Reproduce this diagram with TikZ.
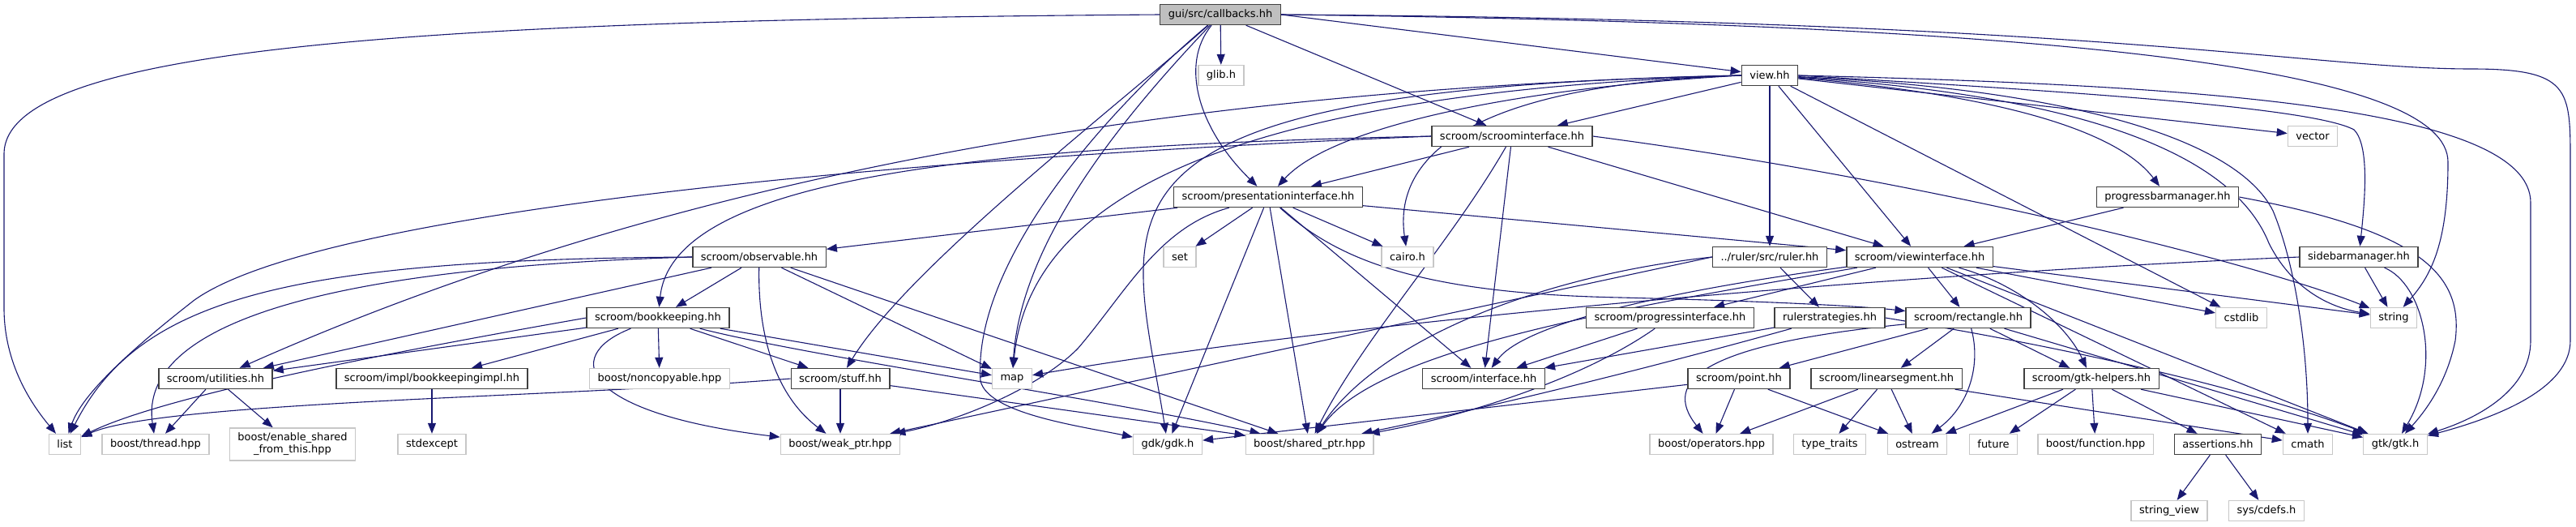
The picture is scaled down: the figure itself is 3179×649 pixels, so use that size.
\documentclass[tikz,border=0pt]{standalone}
\usepackage{fontspec}
\usepackage{tikz}
\usetikzlibrary{arrows.meta,backgrounds}
\newfontfamily\dxfont{DejaVu Sans}
\definecolor{edgeblue}{HTML}{191970}

\begin{document}
\begin{tikzpicture}[x=1pt, y=-1pt]
    \tikzset{hdr/.style={draw=black!75, fill=white, line width=1.4pt, inner xsep=10pt, inner ysep=0pt,
                         minimum height=25pt, font=\dxfont\fontsize{13pt}{15pt}\selectfont},
             ext/.style={hdr, draw=black!22},
             root/.style={hdr, fill=black!25},
             dep/.style={draw=edgeblue, line width=1.1pt, -{Triangle[length=13pt,width=10pt]}}}
    \useasboundingbox (0,0) rectangle (3179,649);
    \node[root] (cb) at (1506,18) {gui/src/callbacks.hh};
    \node[ext] (glib) at (1507,93) {glib.h};
    \node[hdr] (view) at (2184,93) {view.hh};
    \node[hdr] (si) at (1866,168) {scroom/scroominterface.hh};
    \node[ext] (vector) at (2854,168) {vector};
    \node[hdr] (pi) at (1565,243) {scroom/presentationinterface.hh};
    \node[hdr] (pbm) at (2675,243) {progressbarmanager.hh};
    \node[hdr] (obs) at (937,317) {scroom/observable.hh};
    \node[ext] (set) at (1456,317) {set};
    \node[ext] (cairo) at (1737,317) {cairo.h};
    \node[hdr] (ruler) at (2184,317) {../ruler/src/ruler.hh};
    \node[hdr] (vi) at (2369,317) {scroom/viewinterface.hh};
    \node[hdr] (sbm) at (2911,317) {sidebarmanager.hh};
    \node[hdr] (bk) at (812,392) {scroom/bookkeeping.hh};
    \node[hdr] (progif) at (2061,392) {scroom/progressinterface.hh};
    \node[hdr] (rstrat) at (2258,392) {rulerstrategies.hh};
    \node[hdr] (rect) at (2429,392) {scroom/rectangle.hh};
    \node[ext] (cstdlib) at (2766,392) {cstdlib};
    \node[ext] (string) at (2954,392) {string};
    \node[hdr] (util) at (266,467) {scroom/utilities.hh};
    \node[hdr] (bkimpl) at (533,467) {scroom/impl/bookkeepingimpl.hh};
    \node[ext] (noncopy) at (814,467) {boost/noncopyable.hpp};
    \node[hdr] (stuff) at (1037,467) {scroom/stuff.hh};
    \node[ext] (map) at (1249,467) {map};
    \node[hdr] (iface) at (1831,467) {scroom/interface.hh};
    \node[hdr] (point) at (2146,467) {scroom/point.hh};
    \node[hdr] (linseg) at (2328,467) {scroom/linearsegment.hh};
    \node[hdr] (gtkh) at (2581,467) {scroom/gtk-helpers.hh};
    \node[ext] (list) at (80,548) {list};
    \node[ext] (thread) at (192,548) {boost/thread.hpp};
    \node[ext, align=center, minimum height=40pt] (enshared) at (361,548) {boost/enable\_shared\\\_from\_this.hpp};
    \node[ext] (stdexc) at (533,548) {stdexcept};
    \node[ext] (weak) at (1037,548) {boost/weak\_ptr.hpp};
    \node[ext] (gdk) at (1441,548) {gdk/gdk.h};
    \node[ext] (shared) at (1616,548) {boost/shared\_ptr.hpp};
    \node[ext] (oper) at (2112,548) {boost/operators.hpp};
    \node[ext] (ttraits) at (2258,548) {type\_traits};
    \node[ext] (ostream) at (2366,548) {ostream};
    \node[ext] (future) at (2460,548) {future};
    \node[ext] (bfunc) at (2586,548) {boost/function.hpp};
    \node[hdr] (assert) at (2737,548) {assertions.hh};
    \node[ext] (cmath) at (2848,548) {cmath};
    \node[ext] (gtk) at (2956,548) {gtk/gtk.h};
    \node[ext] (strview) at (2677,630) {string\_view};
    \node[ext] (cdefs) at (2797,630) {sys/cdefs.h};
    \begin{scope}[on background layer]
    % callbacks
    \draw[dep] (cb.west) .. controls (500,25) and (5,60) .. (5,190) -- (5,380) .. controls (5,450) and (40,500) .. (list);
    \draw[dep] (cb) -- (glib);
    \draw[dep] (cb.east) -- (view);
    \draw[dep] (cb) -- (si);
    \draw[dep] (cb) .. controls (1455,80) and (1480,160) .. (pi);
    \draw[dep] (cb) .. controls (1380,130) and (1120,330) .. (stuff);
    \draw[dep] (cb) .. controls (1350,150) and (1200,330) .. (1210,470) .. controls (1220,510) and (1330,525) .. (gdk);
    \draw[dep] (cb) .. controls (1380,150) and (1260,300) .. (map);
    \draw[dep] (cb.east) .. controls (2600,30) and (3021,90) .. (3021,200) .. controls (3021,300) and (3000,340) .. (string);
    \draw[dep] (cb.east) .. controls (2600,25) and (2850,85) .. (3050,85) .. controls (3172,85) and (3172,110) .. (3172,200)
        -- (3172,420) .. controls (3172,480) and (3080,515) .. (gtk);
    % view
    \draw[dep] (view) -- (si);
    \draw[dep] (view.west) .. controls (1850,110) and (1640,160) .. (pi);
    \draw[dep] (view.west) .. controls (1400,110) and (800,230) .. (util);
    \draw[dep] (view.west) .. controls (1500,115) and (1270,250) .. (map);
    \draw[dep] (view.west) .. controls (1300,110) and (1395,260) .. (gdk);
    \draw[dep] (view.west) .. controls (1800,105) and (1720,200) .. (cairo);
    \draw[dep] (view) -- (ruler);
    \draw[dep] (view) -- (vi);
    \draw[dep] (view) .. controls (2500,120) and (2620,170) .. (pbm);
    \draw[dep] (view) -- (vector);
    \draw[dep] (view.east) .. controls (2500,110) and (2850,130) .. (2905,160) .. controls (2925,180) and (2918,250) .. (sbm);
    \draw[dep] (view) -- (cstdlib);
    \draw[dep] (view) .. controls (2600,120) and (2760,200) .. (2800,300) .. controls (2830,360) and (2880,380) .. (string);
    \draw[dep] (view) .. controls (2550,110) and (2760,170) .. (2805,260) .. controls (2830,320) and (2848,420) .. (cmath);
    \draw[dep] (view.east) .. controls (2700,105) and (3123,130) .. (3123,250) -- (3123,420) .. controls (3123,480) and (3060,515) .. (gtk);
    % scroominterface
    \draw[dep] (si) -- (pi);
    \draw[dep] (si.west) .. controls (1000,200) and (380,270) .. (240,370) .. controls (150,440) and (100,490) .. (list);
    \draw[dep] (si.west) .. controls (1200,180) and (830,220) .. (bk);
    \draw[dep] (si) -- (vi);
    \draw[dep] (si) -- (iface);
    \draw[dep] (si) .. controls (1790,300) and (1680,420) .. (shared);
    \draw[dep] (si.east) .. controls (2400,225) and (2800,330) .. (string);
    % presentationinterface
    \draw[dep] (pi) -- (obs);
    \draw[dep] (pi) -- (set);
    \draw[dep] (pi) -- (cairo);
    \draw[dep] (pi) -- (vi);
    \draw[dep] (pi) .. controls (1650,320) and (1750,362) .. (2000,367) .. controls (2200,372) and (2300,378) .. (rect);
    \draw[dep] (pi) -- (iface);
    \draw[dep] (pi) -- (gdk);
    \draw[dep] (pi) -- (shared);
    \draw[dep] (pi) .. controls (1430,280) and (1390,360) .. (1330,430) .. controls (1280,480) and (1180,520) .. (weak);
    % managers and ruler
    \draw[dep] (pbm) -- (vi);
    \draw[dep] (pbm.east) .. controls (2990,285) and (3040,340) .. (3030,420) .. controls (3020,470) and (2995,505) .. (gtk);
    \draw[dep] (sbm) -- (string);
    \draw[dep] (sbm) .. controls (2990,350) and (3015,450) .. (gtk);
    \draw[dep] (sbm.west) .. controls (2400,335) and (1700,390) .. (map);
    \draw[dep] (ruler) -- (rstrat);
    \draw[dep] (ruler.west) -- (weak);
    \draw[dep] (ruler.west) .. controls (1900,340) and (1700,420) .. (shared);
    % viewinterface
    \draw[dep] (vi) -- (progif);
    \draw[dep] (vi) -- (rect);
    \draw[dep] (vi) .. controls (2050,360) and (1880,400) .. (iface);
    \draw[dep] (vi) .. controls (2490,350) and (2550,400) .. (gtkh);
    \draw[dep] (vi) -- (cstdlib);
    \draw[dep] (vi) -- (string);
    \draw[dep] (vi) -- (gtk);
    \draw[dep] (vi) -- (cmath);
    \draw[dep] (vi) .. controls (2000,380) and (1700,430) .. (shared);
    % observable and bookkeeping
    \draw[dep] (obs) -- (bk);
    \draw[dep] (obs) -- (util);
    \draw[dep] (obs.west) .. controls (350,320) and (170,370) .. (list);
    \draw[dep] (obs.west) .. controls (400,330) and (170,400) .. (thread);
    \draw[dep] (obs) -- (map);
    \draw[dep] (obs) .. controls (935,420) and (960,490) .. (weak);
    \draw[dep] (obs) -- (shared);
    \draw[dep] (bk) -- (util);
    \draw[dep] (bk) -- (bkimpl);
    \draw[dep] (bk) -- (noncopy);
    \draw[dep] (bk) -- (stuff);
    \draw[dep] (bk) -- (map);
    \draw[dep] (bk.west) .. controls (450,440) and (200,490) .. (list);
    \draw[dep] (bk) .. controls (690,440) and (720,510) .. (weak);
    \draw[dep] (bk) .. controls (1000,440) and (1350,490) .. (shared);
    \draw[dep] (stuff.west) .. controls (700,490) and (200,495) .. (list);
    \draw[dep] (stuff) -- (weak);
    \draw[dep] (stuff) -- (shared);
    % interfaces and geometry
    \draw[dep] (progif) -- (iface);
    \draw[dep] (progif) .. controls (1950,470) and (1800,515) .. (shared);
    \draw[dep] (rstrat) -- (iface);
    \draw[dep] (rstrat) .. controls (2050,450) and (1850,500) .. (shared);
    \draw[dep] (rstrat.east) .. controls (2500,420) and (2750,470) .. (gtk);
    \draw[dep] (rect) -- (point);
    \draw[dep] (rect) -- (linseg);
    \draw[dep] (rect) -- (gtkh);
    \draw[dep] (rect) .. controls (2100,425) and (2050,470) .. (oper);
    \draw[dep] (rect) .. controls (2445,450) and (2430,500) .. (ostream);
    \draw[dep] (rect) -- (gtk);
    \draw[dep] (point) -- (gdk);
    \draw[dep] (point) -- (oper);
    \draw[dep] (point) -- (ostream);
    \draw[dep] (linseg) -- (oper);
    \draw[dep] (linseg) -- (ttraits);
    \draw[dep] (linseg) -- (ostream);
    \draw[dep] (linseg) -- (cmath);
    \draw[dep] (gtkh) -- (ostream);
    \draw[dep] (gtkh) -- (future);
    \draw[dep] (gtkh) -- (bfunc);
    \draw[dep] (gtkh) -- (assert);
    \draw[dep] (gtkh) -- (gtk);
    \draw[dep] (assert) -- (strview);
    \draw[dep] (assert) -- (cdefs);
    \draw[dep] (util) -- (thread);
    \draw[dep] (util) -- (enshared);
    \draw[dep] (bkimpl) -- (stdexc);
    \end{scope}
\end{tikzpicture}
\end{document}
